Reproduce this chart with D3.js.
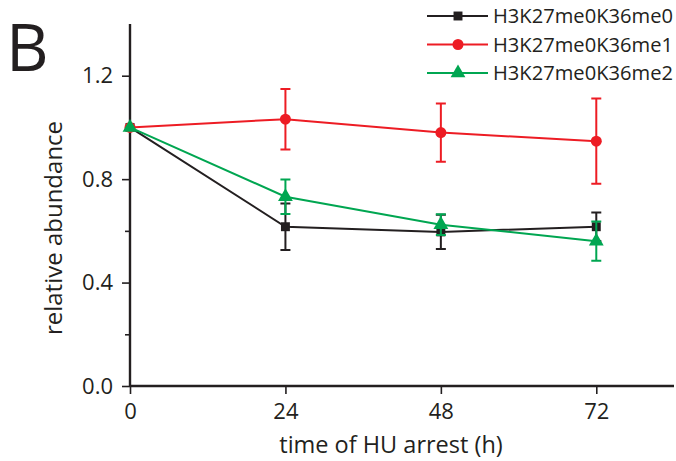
<!DOCTYPE html>
<html>
<head>
<meta charset="utf-8">
<script src="https://cdn.jsdelivr.net/npm/d3@7"></script>
<style>
  body { margin: 0; background: #fff; }
  text { font-family: "Open Sans", "Noto Sans", sans-serif; fill: #231f20; }
</style>
</head>
<body>
<svg id="viz"></svg>
<script>
// ----------------------------------------------------------------------------------------------------------------
// DATA

var hours = [0, 24, 48, 72];
var seriesNames = ["H3K27me0K36me0", "H3K27me0K36me1", "H3K27me0K36me2"];

var me0Values = [1.0, 0.616, 0.596, 0.616];
var me0Errors = [0, 0.09, 0.066, 0.055];

var me1Values = [1.0, 1.032, 0.980, 0.947];
var me1Errors = [0, 0.117, 0.113, 0.165];

var me2Values = [1.0, 0.732, 0.624, 0.560];
var me2Errors = [0, 0.067, 0.040, 0.076];

var yTicks = [0.0, 0.4, 0.8, 1.2];
var yMinorTicks = [0.2, 0.6, 1.0];
var xTicks = [0, 24, 48, 72];

// ----------------------------------------------------------------------------------------------------------------
// SETUP

var w = 676, h = 461;
var viz = d3.select("#viz").attr("width", w).attr("height", h);

var x = d3.scaleLinear().domain([0, 84]).range([130, 674]);
var y = d3.scaleLinear().domain([0, 1.4]).range([386, 24]);

var colors = ["#231f20", "#ed1c24", "#00a651"];
var shapes = [d3.symbolSquare, d3.symbolCircle, d3.symbolTriangle];
var sizes = [80, 95, 95];

var series = [
  {values: me0Values, errors: me0Errors},
  {values: me1Values, errors: me1Errors},
  {values: me2Values, errors: me2Errors}
].map(function(s, i) {
  return {
    name: seriesNames[i],
    color: colors[i],
    shape: shapes[i],
    size: sizes[i],
    points: hours.map(function(t, j) { return {t: t, v: s.values[j], e: s.errors[j]}; })
  };
});

// ----------------------------------------------------------------------------------------------------------------
// AXES

var axisColor = "#231f20";

var yAxis = viz.append("g").attr("transform", "translate(" + x(0) + ",0)")
  .call(d3.axisLeft(y).tickValues(yTicks).tickFormat(d3.format(".1f")).tickSize(8).tickPadding(9));
viz.append("g").attr("transform", "translate(" + x(0) + ",0)")
  .call(d3.axisLeft(y).tickValues(yMinorTicks).tickFormat("").tickSize(5))
  .select(".domain").remove();

var xAxis = viz.append("g").attr("transform", "translate(0," + y(0) + ")")
  .call(d3.axisBottom(x).tickValues(xTicks).tickSize(8).tickPadding(9));

viz.selectAll(".domain").attr("stroke", axisColor).attr("stroke-width", 2.4);
viz.selectAll(".tick line").attr("stroke", axisColor).attr("stroke-width", 1.6);
viz.selectAll(".tick text").style("font-size", "22px").attr("fill", axisColor);
yAxis.selectAll(".domain").attr("d", "M0," + y(1.4) + "V" + y(0));
xAxis.selectAll(".domain").attr("d", "M" + x(0) + ",0H" + x(84));

viz.append("text")
  .attr("transform", "translate(62,228) rotate(-90)")
  .attr("text-anchor", "middle")
  .style("font-size", "24px")
  .text("relative abundance");

viz.append("text")
  .attr("x", 391).attr("y", 453)
  .attr("text-anchor", "middle")
  .style("font-size", "23.5px")
  .text("time of HU arrest (h)");

viz.append("text")
  .attr("x", 6).attr("y", 71)
  .style("font-size", "66px")
  .text("B");

// ----------------------------------------------------------------------------------------------------------------
// SERIES

var line = d3.line().x(function(d) { return x(d.t); }).y(function(d) { return y(d.v); });

series.forEach(function(s) {
  var g = viz.append("g");

  g.append("path").datum(s.points)
    .attr("d", line).attr("fill", "none")
    .attr("stroke", s.color).attr("stroke-width", 2);

  var bars = s.points.filter(function(d) { return d.e > 0; });
  g.selectAll(".err").data(bars).enter().append("path")
    .attr("fill", "none").attr("stroke", s.color).attr("stroke-width", 2)
    .attr("d", function(d) {
      var cx = x(d.t), top = y(d.v + d.e), bot = y(d.v - d.e);
      return "M" + (cx - 5) + "," + top + "H" + (cx + 5) +
             "M" + cx + "," + top + "V" + bot +
             "M" + (cx - 5) + "," + bot + "H" + (cx + 5);
    });

  g.selectAll(".pt").data(s.points).enter().append("path")
    .attr("transform", function(d) { return "translate(" + x(d.t) + "," + y(d.v) + ")"; })
    .attr("d", d3.symbol().type(s.shape).size(s.size))
    .attr("fill", s.color);
});

// ----------------------------------------------------------------------------------------------------------------
// LEGEND

var legend = viz.append("g");
series.forEach(function(s, i) {
  var ly = 16 + i * 28.5;
  legend.append("line")
    .attr("x1", 427).attr("x2", 488).attr("y1", ly).attr("y2", ly)
    .attr("stroke", s.color).attr("stroke-width", 2);
  legend.append("path")
    .attr("transform", "translate(458," + ly + ")")
    .attr("d", d3.symbol().type(s.shape).size(s.size))
    .attr("fill", s.color);
  legend.append("text")
    .attr("x", 493).attr("y", ly + 7)
    .attr("textLength", 180).attr("lengthAdjust", "spacingAndGlyphs")
    .style("font-size", "19.5px")
    .text(s.name);
});
</script>
</body>
</html>
